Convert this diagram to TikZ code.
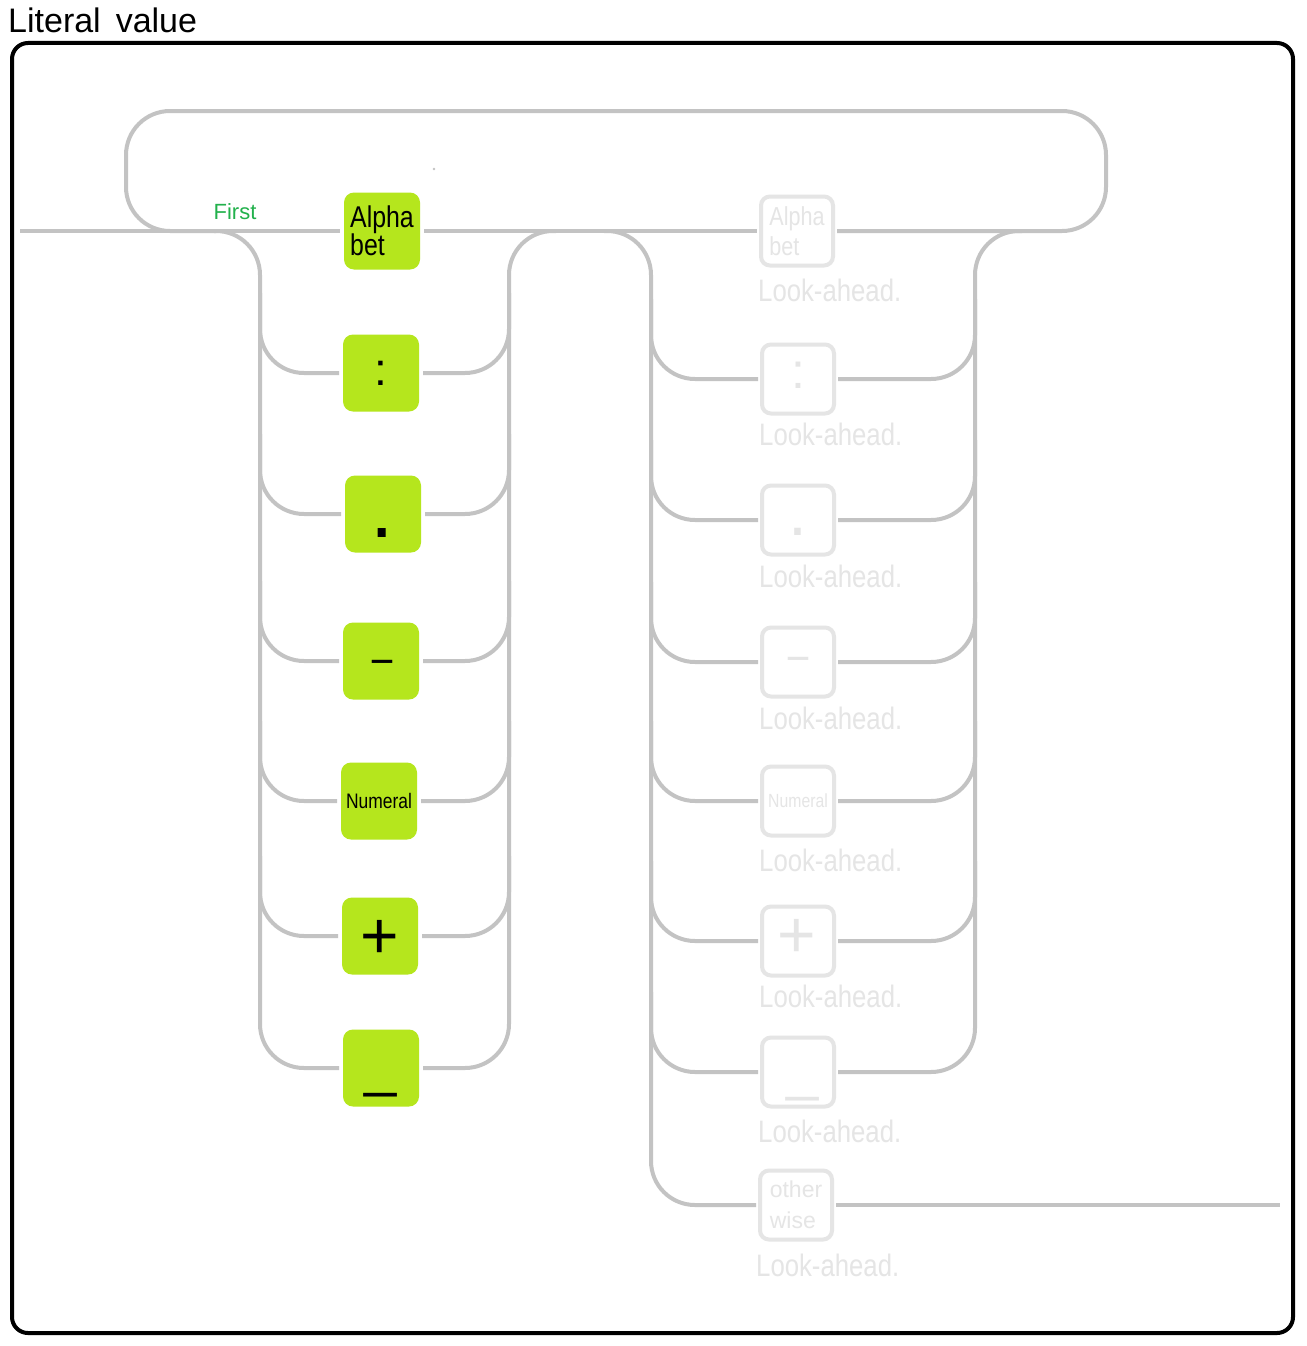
\documentclass[tikz,border=0pt]{standalone}
\usepackage{fontspec}
\usepackage{graphicx}
\setmainfont{Liberation Sans}
\newfontfamily\cf[FakeStretch=0.83]{Liberation Sans}
\usetikzlibrary{calc}
\definecolor{wiregray}{RGB}{195,195,195}
\definecolor{ghost}{RGB}{229,229,229}
\definecolor{lime}{RGB}{181,230,29}
\definecolor{firstgreen}{RGB}{34,177,76}
\begin{document}
\begin{tikzpicture}[x=1pt,y=-1pt,
  wire/.style={draw=wiregray, line width=4pt, rounded corners=44pt},
  gbox/.style={fill=lime, rounded corners=10pt, minimum width=76pt, minimum height=77pt, inner sep=0pt, outer sep=4pt},
  lbox/.style={draw=ghost, fill=white, line width=4pt, rounded corners=9pt, minimum width=72pt, minimum height=69pt, inner sep=0pt, outer sep=4pt},
  gsym/.style={inner sep=0pt, text=black},
  lsym/.style={inner sep=0pt, text=ghost},
  look/.style={inner sep=0pt, text=ghost, anchor=base west, font=\cf\fontsize{31}{36}\selectfont},
]
\useasboundingbox (0,0) rectangle (1306,1346);
\fill[white] (0,0) rectangle (1306,1346);

% title and frame
\node[inner sep=0pt, anchor=base west, font=\fontsize{34}{38}\selectfont] (title) at (8,33) {Literal\hspace{15pt}value};
\draw[line width=4pt, rounded corners=16pt] (12,43) rectangle (1293,1333);

% left choice boxes
\node[gbox, align=left, font=\cf\fontsize{30}{28}\selectfont] (a1) at (382,231) {Alpha\\bet};
\node[gbox] (a2) at (381,373) {};
\node[gsym, font=\fontsize{46}{50}\selectfont] (a2t) at (381,373) {:};
\node[gbox] (a3) at (383,514) {};
\node[gsym, font=\fontsize{84}{90}\selectfont] (a3t) at (382,533) {.};
\node[gbox] (a4) at (381,661) {};
\node[gsym, anchor=base, font=\fontsize{40}{44}\selectfont] (a4t) at (382,672) {\scalebox{2.1}[1]{-}};
\node[gbox, font=\cf\fontsize{21}{24}\selectfont] (a5) at (379,801) {Numeral};
\node[gbox] (a6) at (380,936) {};
\node[gsym, font=\fontsize{66}{70}\selectfont] (a6t) at (380,939) {+};
\node[gbox] (a7) at (381,1068) {};
\node[gsym, font=\fontsize{58}{64}\selectfont] (a7t) at (381,1091) {\_};

% right (look-ahead) boxes
\node[lbox, align=left, text=ghost, font=\cf\fontsize{26}{30}\selectfont] (b1) at (797,231) {Alpha\\bet};
\node[lbox] (b2) at (798,379) {};
\node[lsym, font=\fontsize{50}{56}\selectfont] (b2t) at (798,375) {:};
\node[lbox] (b3) at (798,520) {};
\node[lsym, font=\fontsize{68}{72}\selectfont] (b3t) at (798,532) {.};
\node[lbox] (b4) at (798,662) {};
\node[lsym, anchor=base, font=\fontsize{40}{44}\selectfont] (b4t) at (798,669) {\scalebox{2.1}[1]{-}};
\node[lbox, text=ghost, font=\cf\fontsize{19}{22}\selectfont] (b5) at (798,801) {Numeral};
\node[lbox] (b6) at (798,941) {};
\node[lsym, font=\fontsize{66}{70}\selectfont] (b6t) at (797,938) {+};
\node[lbox] (b7) at (798,1072) {};
\node[lsym, font=\fontsize{58}{64}\selectfont] (b7t) at (803,1095) {\_};
\node[lbox, align=left, text=ghost, font=\fontsize{23}{31}\selectfont] (b8) at (796,1205) {other\\wise};

\node[look] (la1) at (758,301) {Look-ahead.};
\node[look] (la2) at (759,445) {Look-ahead.};
\node[look] (la3) at (759,587) {Look-ahead.};
\node[look] (la4) at (759,729) {Look-ahead.};
\node[look] (la5) at (759,871) {Look-ahead.};
\node[look] (la6) at (759,1007) {Look-ahead.};
\node[look] (la7) at (758,1142) {Look-ahead.};
\node[look] (la8) at (756,1276) {Look-ahead.};

% labels
\node[inner sep=0pt, text=firstgreen, font=\fontsize{22}{24}\selectfont] (first) at (235,212) {First};
\fill[wiregray] (434,169) circle (1.3);

% main line and loop
\coordinate (start) at (20,231);
\coordinate (finish) at (1280,1205);
\draw[wire] (start) -- (a1);
\draw[wire] (a1) -- (b1);
\draw[wire] (b1) -- (1106,231) -- (1106,111) -- (126,111) -- (126,231) -- (216,231);

% left choice buses
\draw[wire] (214,231) -- (260,231) -- (260,1068) -- (a7);
\draw[wire] (a7) -- (509,1068) -- (509,231) -- (556,231);
\foreach \n/\y in {a2/373,a3/514,a4/661,a5/801,a6/936}{
  \draw[wire] (260,\y-80) -- (260,\y) -- (\n);
  \draw[wire] (\n) -- (509,\y) -- (509,\y-80);
}

% right choice buses
\draw[wire] (604,231) -- (651,231) -- (651,1205) -- (b8);
\draw[wire] (b7) -- (975,1072) -- (975,231) -- (1022,231);
\foreach \n/\y in {b2/379,b3/520,b4/662,b5/801,b6/941}{
  \draw[wire] (651,\y-80) -- (651,\y) -- (\n);
  \draw[wire] (\n) -- (975,\y) -- (975,\y-80);
}
\draw[wire] (651,992) -- (651,1072) -- (b7);
\draw[wire] (b8) -- (finish);
\end{tikzpicture}
\end{document}
